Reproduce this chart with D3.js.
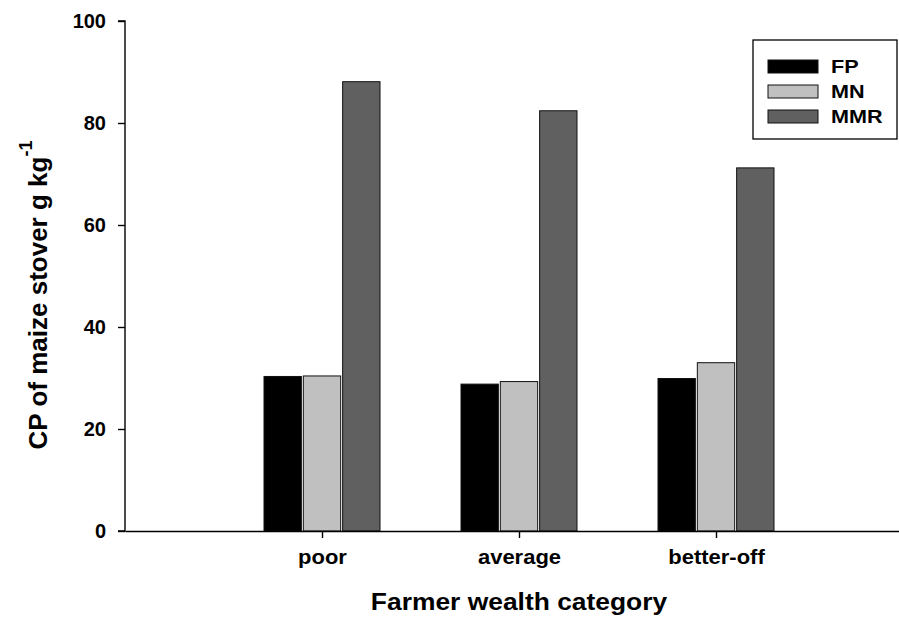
<!DOCTYPE html>
<html>
<head>
<meta charset="utf-8">
<script src="https://cdn.jsdelivr.net/npm/d3@7"></script>
<style>
  html, body { margin: 0; padding: 0; background: #fff; }
  svg { display: block; font-family: "Liberation Sans", Arial, sans-serif; }
</style>
</head>
<body>
<svg id="chart" width="899" height="617"></svg>
<script>
const categories = ["poor", "average", "better-off"];
const seriesNames = ["FP", "MN", "MMR"];
const FP  = [30.3, 28.8, 29.9];
const MN  = [30.4, 29.3, 33.0];
const MMR = [88.1, 82.4, 71.2];
const yTicks = [0, 20, 40, 60, 80, 100];
const seriesColors = ["#000000", "#c0c0c0", "#606060"];

const seriesValues = [FP, MN, MMR];
const svg = d3.select("#chart");

const axisX0 = 125, axisY = 531, topY = 21;
const font = "Liberation Sans, Arial, sans-serif";

const y = d3.scaleLinear().domain([0, 100]).range([axisY, topY]);
// category positions 1..3 on a 0..4 axis
const x = d3.scaleLinear().domain([0, 4]).range([axisX0, axisX0 + 4 * 197]);
const xs = d3.scaleBand().domain(seriesNames).range([-58, 58]).paddingInner(0.05).paddingOuter(0);

// bars
const g = svg.append("g");
categories.forEach((c, ci) => {
  const cx = x(ci + 1);
  seriesNames.forEach((s, si) => {
    const v = seriesValues[si][ci];
    g.append("rect")
      .attr("x", cx + xs(s))
      .attr("y", y(v))
      .attr("width", xs.bandwidth())
      .attr("height", y(0) - y(v))
      .attr("fill", seriesColors[si])
      .attr("stroke", "#111")
      .attr("stroke-width", 1);
  });
});

// y axis
const yAxis = d3.axisLeft(y).tickValues(yTicks).tickSize(7).tickPadding(12);
const ya = svg.append("g").attr("transform", `translate(${axisX0},0)`).call(yAxis);
ya.select(".domain").attr("d", `M-7,${topY}H0V${axisY}H-7`).attr("stroke", "#000").attr("stroke-width", 1.4);
ya.selectAll(".tick line").attr("stroke", "#000").attr("stroke-width", 1.4);
ya.selectAll(".tick text").attr("font-size", 20).attr("font-weight", "bold")
  .attr("fill", "#000").attr("font-family", font);

// x axis
const xAxis = d3.axisBottom(x).tickValues([1, 2, 3]).tickFormat(d => categories[d - 1])
  .tickSize(7).tickSizeOuter(0);
const xa = svg.append("g").attr("transform", `translate(0,${axisY})`).call(xAxis);
xa.select(".domain").attr("stroke", "#000").attr("stroke-width", 1.4);
xa.selectAll(".tick line").attr("stroke", "#000").attr("stroke-width", 1.4);
xa.selectAll(".tick text")
  .attr("y", null).attr("dy", null)
  .attr("transform", "translate(0,33) scale(1.1,1)")
  .attr("font-size", 20).attr("font-weight", "bold")
  .attr("fill", "#000").attr("font-family", font);

// axis titles
svg.append("text")
  .attr("transform", `translate(${x(2)},610) scale(1.1,1)`)
  .attr("text-anchor", "middle")
  .attr("font-size", 24).attr("font-weight", "bold")
  .text("Farmer wealth category");

const yt = svg.append("text")
  .attr("transform", "translate(47,295) rotate(-90)")
  .attr("text-anchor", "middle")
  .attr("font-size", 26).attr("font-weight", "bold");
yt.append("tspan").text("CP of maize stover g kg");
yt.append("tspan").attr("dy", -15).attr("font-size", 18).text("-1");

// legend
const leg = svg.append("g");
leg.append("rect").attr("x", 753).attr("y", 40).attr("width", 144).attr("height", 99)
  .attr("fill", "#fff").attr("stroke", "#000").attr("stroke-width", 1.3);
seriesNames.forEach((s, i) => {
  const yy = 60 + i * 25;
  leg.append("rect").attr("x", 768).attr("y", yy).attr("width", 50).attr("height", 13)
    .attr("fill", seriesColors[i]).attr("stroke", "#111").attr("stroke-width", 1);
  leg.append("text").attr("transform", `translate(831,${yy + 13}) scale(1.2,1)`)
    .attr("font-size", 18).attr("font-weight", "bold").text(s);
});
</script>
</body>
</html>
